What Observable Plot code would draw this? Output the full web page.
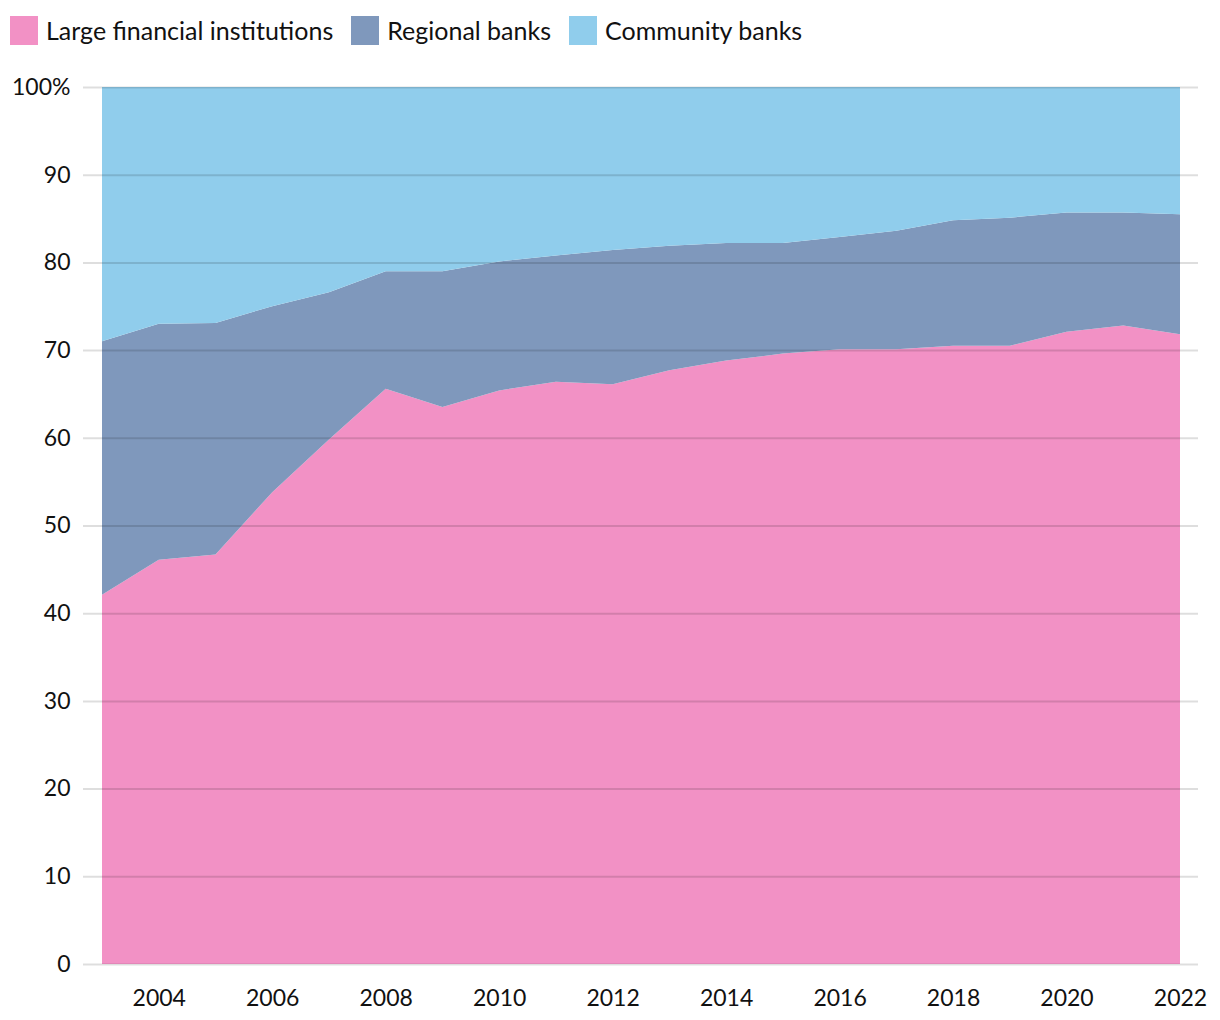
<!DOCTYPE html>
<html>
<head>
<meta charset="utf-8">
<script src="https://cdn.jsdelivr.net/npm/d3@7"></script>
<script src="https://cdn.jsdelivr.net/npm/@observablehq/plot@0.6"></script>
<style>
  body { margin: 0; background: #fff; font-family: "Source Sans Pro", Lato, "Noto Sans", sans-serif; }
  #legend { display: flex; align-items: center; height: 60px; padding-left: 10px; font-size: 25px; color: #111; }
  .item { display: flex; align-items: center; margin-right: 18px; }
  .sw { width: 28px; height: 29px; margin-right: 8px; }
  svg { display: block; }
</style>
</head>
<body>
<div id="legend"></div>
<div id="chart"></div>
<script>
const years = [2003,2004,2005,2006,2007,2008,2009,2010,2011,2012,2013,2014,2015,2016,2017,2018,2019,2020,2021,2022];
const large = [42.1,46.1,46.7,53.8,59.8,65.6,63.5,65.4,66.4,66.1,67.7,68.8,69.6,70.1,70.1,70.5,70.5,72.1,72.8,71.8];
const regionalTop = [71.0,73.0,73.1,75.0,76.6,79.0,79.0,80.1,80.8,81.4,81.9,82.2,82.2,82.9,83.6,84.8,85.1,85.7,85.7,85.5];
const regional = regionalTop.map((t, i) => +(t - large[i]).toFixed(1));
const community = regionalTop.map(t => +(100 - t).toFixed(1));
const seriesNames = ["Large financial institutions", "Regional banks", "Community banks"];
const seriesColors = ["#f291c5", "#7f98bc", "#90cdec"];
const yTicks = [0,10,20,30,40,50,60,70,80,90,100];
const xTicks = [2004,2006,2008,2010,2012,2014,2016,2018,2020,2022];

const data = [];
const seriesValues = [large, regional, community];
seriesNames.forEach((name, s) => {
  years.forEach((yr, i) => data.push({year: yr, series: name, value: seriesValues[s][i]}));
});

const legend = document.getElementById("legend");
seriesNames.forEach((name, i) => {
  const it = document.createElement("div");
  it.className = "item";
  it.innerHTML = `<div class="sw" style="background:${seriesColors[i]}"></div><span>${name}</span>`;
  legend.appendChild(it);
});

const chart = Plot.plot({
  width: 1220,
  height: 959,
  marginLeft: 83,
  marginRight: 22,
  marginTop: 27,
  marginBottom: 55,
  style: {fontFamily: '"Source Sans Pro", Lato, "Noto Sans", sans-serif', fontSize: "23px", color: "#111"},
  x: {domain: [2003, 2022], insetLeft: 19, insetRight: 18, label: null},
  y: {domain: [0, 100], label: null},
  color: {domain: seriesNames, range: seriesColors},
  marks: [
    Plot.areaY(data, {x: "year", y: "value", fill: "series", order: seriesNames}),
    Plot.ruleY(yTicks, {stroke: "#000", strokeOpacity: 0.13, strokeWidth: 2}),
    Plot.axisY(yTicks, {tickSize: 0, tickPadding: 13, tickFormat: d => d === 100 ? "100%" : String(d), fontSize: 23}),
    Plot.axisX(xTicks, {tickSize: 0, tickPadding: 25, tickFormat: d => String(d), fontSize: 23})
  ]
});
document.getElementById("chart").appendChild(chart);
</script>
</body>
</html>
